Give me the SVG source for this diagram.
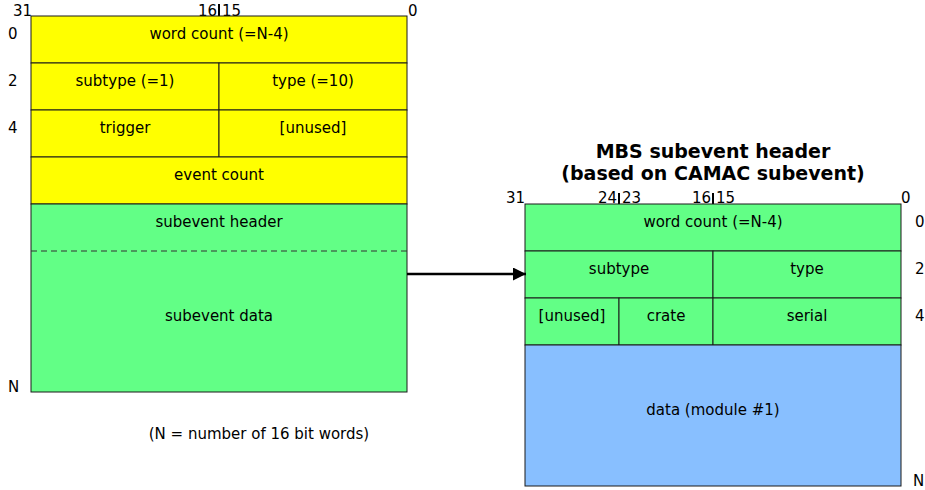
<svg xmlns="http://www.w3.org/2000/svg" width="925" height="490" viewBox="0 0 925 490">
<style>
text{font-family:"DejaVu Sans","Liberation Sans",sans-serif;font-size:15px;fill:#000}
.m{text-anchor:middle}
.t{font-weight:bold;font-size:19px}
.y{fill:#ffff00;stroke:#1a1a1a;stroke-width:1}
.g{fill:#62ff86;stroke:#1a1a1a;stroke-width:1}
.b{fill:#88bfff;stroke:#1a1a1a;stroke-width:1}
.tick{stroke:#000;stroke-width:2}
.conn{stroke:#000;stroke-width:2.5;fill:none}
</style>
<defs>
<marker id="ah" viewBox="0 0 13 13" refX="13" refY="6.5" markerWidth="13" markerHeight="13" markerUnits="userSpaceOnUse" orient="auto">
<path d="M0,0 L13,6.5 L0,13 z" fill="#000"/>
</marker>
</defs>

<g id="left-labels">
<text x="13" y="16">31</text>
<text x="217" y="16" text-anchor="end">16</text>
<text x="222" y="16">15</text>
<text x="408" y="16">0</text>
<line class="tick" x1="219" y1="4" x2="219" y2="19"/>
<text x="8" y="39">0</text>
<text x="8" y="86">2</text>
<text x="8" y="133">4</text>
<text x="8" y="392">N</text>
</g>

<g id="word-count-left">
<rect class="y" x="31" y="16" width="376" height="47"/>
<text class="m" x="219" y="39">word count (=N-4)</text>
</g>
<g id="subtype-left">
<rect class="y" x="31" y="63" width="188" height="47"/>
<text class="m" x="125" y="86">subtype (=1)</text>
</g>
<g id="type-left">
<rect class="y" x="219" y="63" width="188" height="47"/>
<text class="m" x="313" y="86">type (=10)</text>
</g>
<g id="trigger">
<rect class="y" x="31" y="110" width="188" height="47"/>
<text class="m" x="125" y="133">trigger</text>
</g>
<g id="unused-left">
<rect class="y" x="219" y="110" width="188" height="47"/>
<text class="m" x="313" y="133">[unused]</text>
</g>
<g id="event-count">
<rect class="y" x="31" y="157" width="376" height="47"/>
<text class="m" x="219" y="180">event count</text>
</g>
<g id="subevent">
<rect class="g" x="31" y="204" width="376" height="188"/>
<line x1="31" y1="251" x2="407" y2="251" stroke="#333" stroke-width="1" stroke-dasharray="6,4"/>
<text class="m" x="219" y="227">subevent header</text>
<text class="m" x="219" y="321">subevent data</text>
</g>
<g id="footnote">
<text class="m" x="259" y="439">(N = number of 16 bit words)</text>
</g>

<g id="title">
<text class="m t" x="713" y="158">MBS subevent header</text>
<text class="m t" x="713" y="180">(based on CAMAC subevent)</text>
</g>

<g id="right-labels">
<text x="506" y="203">31</text>
<text x="617" y="203" text-anchor="end">24</text>
<text x="622" y="203">23</text>
<text x="711" y="203" text-anchor="end">16</text>
<text x="716" y="203">15</text>
<text x="901" y="203">0</text>
<line class="tick" x1="619" y1="193" x2="619" y2="207"/>
<line class="tick" x1="713" y1="193" x2="713" y2="207"/>
<text x="915" y="227">0</text>
<text x="915" y="274">2</text>
<text x="915" y="321">4</text>
<text x="913" y="486">N</text>
</g>

<g id="word-count-right">
<rect class="g" x="525" y="204" width="376" height="47"/>
<text class="m" x="713" y="227">word count (=N-4)</text>
</g>
<g id="subtype-right">
<rect class="g" x="525" y="251" width="188" height="47"/>
<text class="m" x="619" y="274">subtype</text>
</g>
<g id="type-right">
<rect class="g" x="713" y="251" width="188" height="47"/>
<text class="m" x="807" y="274">type</text>
</g>
<g id="unused-right">
<rect class="g" x="525" y="298" width="94" height="47"/>
<text class="m" x="572" y="321">[unused]</text>
</g>
<g id="crate">
<rect class="g" x="619" y="298" width="94" height="47"/>
<text class="m" x="666" y="321">crate</text>
</g>
<g id="serial">
<rect class="g" x="713" y="298" width="188" height="47"/>
<text class="m" x="807" y="321">serial</text>
</g>
<g id="data">
<rect class="b" x="525" y="345" width="376" height="141"/>
<text class="m" x="713" y="415">data (module #1)</text>
</g>

<g id="connectors">
<line class="conn" x1="407" y1="274" x2="526" y2="274" marker-end="url(#ah)"/>
</g>
</svg>
